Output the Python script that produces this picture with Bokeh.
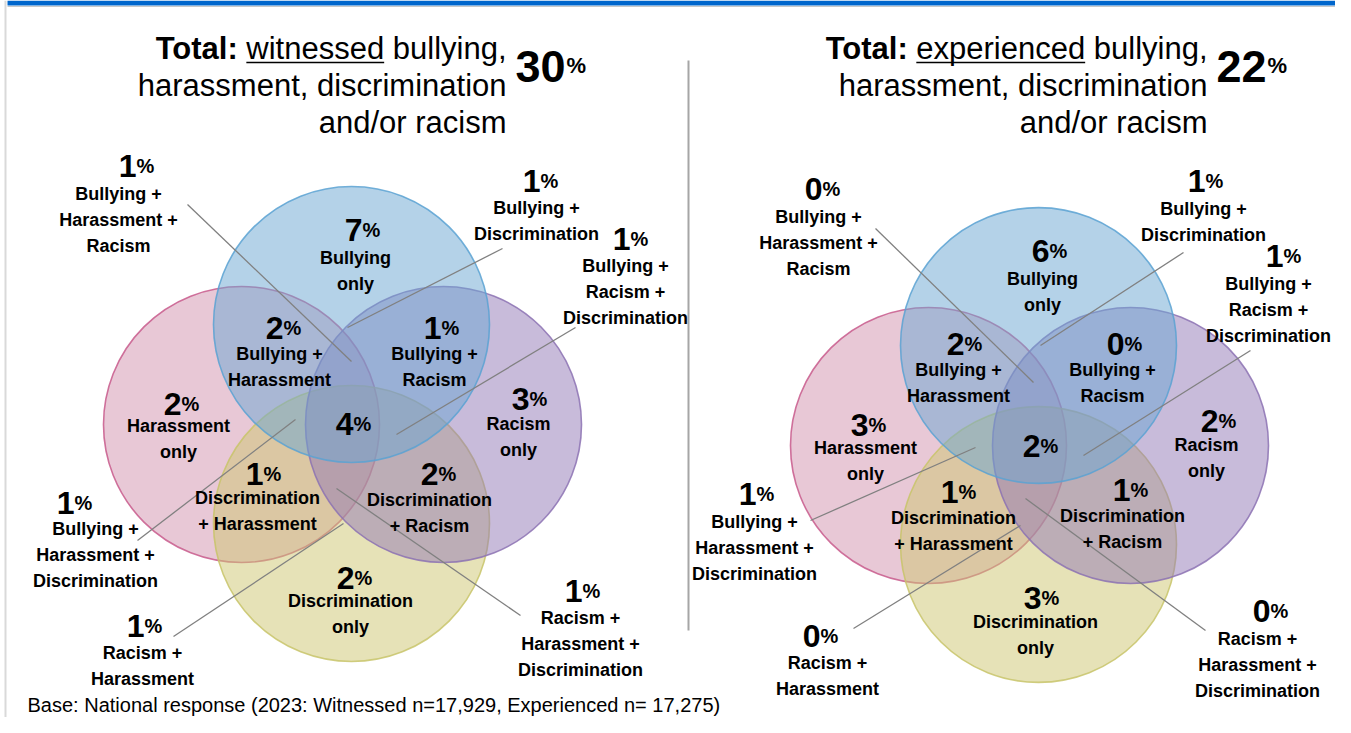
from bokeh.plotting import figure
from bokeh.models import ColumnDataSource, Range1d
from bokeh.core.properties import value
from bokeh.embed import file_html
from bokeh.resources import INLINE

# ---------------- data ----------------
regions = [
    "Bullying only", "Bullying + Harassment", "Bullying + Racism", "Harassment only",
    "All four", "Racism only", "Discrimination + Harassment", "Discrimination + Racism",
    "Discrimination only", "Bullying + Harassment + Racism", "Bullying + Discrimination",
    "Bullying + Racism + Discrimination", "Bullying + Harassment + Discrimination",
    "Racism + Harassment", "Racism + Harassment + Discrimination",
]
region_lines = [
    ["Bullying", "only"], ["Bullying +", "Harassment"], ["Bullying +", "Racism"],
    ["Harassment", "only"], [], ["Racism", "only"], ["Discrimination", "+ Harassment"],
    ["Discrimination", "+ Racism"], ["Discrimination", "only"],
    ["Bullying +", "Harassment +", "Racism"], ["Bullying +", "Discrimination"],
    ["Bullying +", "Racism +", "Discrimination"], ["Bullying +", "Harassment +", "Discrimination"],
    ["Racism +", "Harassment"], ["Racism +", "Harassment +", "Discrimination"],
]
witnessed_pct = [7, 2, 1, 2, 4, 3, 1, 2, 2, 1, 1, 1, 1, 1, 1]
experienced_pct = [6, 2, 0, 3, 2, 2, 1, 1, 3, 0, 1, 1, 1, 0, 0]
totals = [30, 22]
kinds = ["witnessed", "experienced"]
footer = "Base: National response (2023: Witnessed n=17,929, Experienced n= 17,275)"

# ---------------- layout (pixel coordinates) ----------------
FONT = "Liberation Sans"
sets = ["Harassment", "Discrimination", "Racism", "Bullying"]  # drawing order
set_center = {"Bullying": (351, 324), "Harassment": (241, 424),
              "Racism": (443, 424), "Discrimination": (351, 523)}
set_fill = {"Bullying": "#69a5d1", "Harassment": "#d191ad",
            "Racism": "#9177b5", "Discrimination": "#cdc56f"}
set_line = {"Bullying": "#5aa2d2", "Harassment": "#c85a8c",
            "Racism": "#8c72b3", "Discrimination": "#c8c46a"}
R = 138
panel_shift = [(0, 0), (687, 21)]

# (junction x, number y, lines centre x, first line y)
pos_left = [
    (362, 229, 355, 257), (283, 327, 279, 353), (441, 327, 434, 353),
    (181, 403, 178, 425), (353, 423, 353, 0), (529, 398, 518, 423),
    (263, 473, 257, 497), (438, 473, 429, 499), (354, 577, 350, 600),
    (136, 165, 118, 193), (540, 180, 536, 207), (630, 238, 625, 265),
    (74, 502, 95, 528), (144, 625, 142, 652), (582, 590, 580, 617),
]
pos_right = [
    (1049, 250, 1042, 278), (964, 343, 958, 369), (1124, 343, 1112, 369),
    (868, 424, 865, 447), (1040, 445, 1040, 0), (1218, 420, 1206, 444),
    (958, 491, 953, 517), (1130, 489, 1122, 515), (1041, 597, 1035, 621),
    (822, 188, 818, 216), (1205, 180, 1203, 208), (1283, 255, 1268, 283),
    (756, 493, 754, 521), (820, 635, 827, 662), (1270, 610, 1257, 638),
]
leaders_left = [((187, 204), (351, 361)), ((502, 248), (347, 327)), ((575, 327), (396, 434)),
                ((137, 540), (295, 419)), ((173, 636), (343, 523)), ((336, 488), (520, 615))]
leaders_right = [((875, 228), (1033, 382)), ((1183, 252), (1040, 345)), ((1250, 350), (1083, 455)),
                 ((810, 520), (975, 447)), ((853, 628), (1020, 525)), ((1025, 498), (1205, 630))]

LINE_GAP = 26

p = figure(width=1335, height=717, x_range=Range1d(0, 1335), y_range=Range1d(717, 0),
           output_backend="svg", toolbar_location=None,
           x_axis_location=None, y_axis_location=None, min_border=0,
           outline_line_color=None, background_fill_color="white")
p.grid.visible = False

# frame
p.quad(left=[7], right=[1335], top=[0], bottom=[5], fill_color="#0066cc", line_color=None)
p.segment(x0=[7], y0=[6], x1=[1335], y1=[6], line_color="#c8c8c8", line_width=1)
p.segment(x0=[5], y0=[0], x1=[5], y1=[717], line_color="#d9d9d9", line_width=2)
# divider
p.segment(x0=[688], y0=[60], x1=[688], y1=[630], line_color="#a6a6a6", line_width=2)

# circles
for sx, sy in panel_shift:
    for s in sets:
        cx, cy = set_center[s]
        p.circle(x=[cx + sx], y=[cy + sy], radius=R, fill_color=set_fill[s], fill_alpha=0.5,
                 line_color=set_line[s], line_alpha=0.85, line_width=1.6)

# leaders
for leaders in (leaders_left, leaders_right):
    p.segment(x0=[a[0] for a, b in leaders], y0=[a[1] for a, b in leaders],
              x1=[b[0] for a, b in leaders], y1=[b[1] for a, b in leaders],
              line_color="#808080", line_width=1.3)


def txt(xs, ys, texts, size, align="center", baseline="middle", bold=True):
    src = ColumnDataSource(dict(x=xs, y=ys, t=texts))
    p.text(x="x", y="y", text="t", source=src, text_font=value(FONT),
           text_font_size=size, text_align=align, text_baseline=baseline,
           text_font_style="bold" if bold else "normal", text_color="black")


for pcts, pos in ((witnessed_pct, pos_left), (experienced_pct, pos_right)):
    txt([q[0] for q in pos], [q[1] for q in pos], [str(v) for v in pcts], "32px", align="right")
    txt([q[0] for q in pos], [q[1] for q in pos], ["%"] * len(pcts), "20px", align="left")
    lx, ly, lt = [], [], []
    for q, lines in zip(pos, region_lines):
        for i, line in enumerate(lines):
            lx.append(q[2]); ly.append(q[3] + i * LINE_GAP); lt.append(line)
    txt(lx, ly, lt, "18px")

# titles
title_right = [506, 1207]
for k, (kind, tot, xr) in enumerate(zip(kinds, totals, title_right)):
    rest = kind + " bullying,"
    txt([xr], [48], [rest], "31px", align="right", bold=False)
    w_kind = (4.446 if kind == "witnessed" else 5.447) * 31
    w_rest = w_kind + 0.278 * 31 + 3.668 * 31
    start = xr - w_rest
    txt([start - 0.278 * 31], [48], ["Total:"], "31px", align="right")
    p.segment(x0=[start], y0=[62], x1=[start + w_kind], y1=[62], line_color="black", line_width=1.6)
    txt([xr, xr], [85, 122], ["harassment, discrimination", "and/or racism"], "31px",
        align="right", bold=False)
    txt([xr + 9], [66], [str(tot)], "45px", align="left")
    txt([xr + 9 + 2 * 0.556 * 45 + 1], [65], ["%"], "22px", align="left")

txt([27], [704], [footer], "20px", align="left", bold=False)

open("out.html", "w").write(file_html(p, INLINE))
